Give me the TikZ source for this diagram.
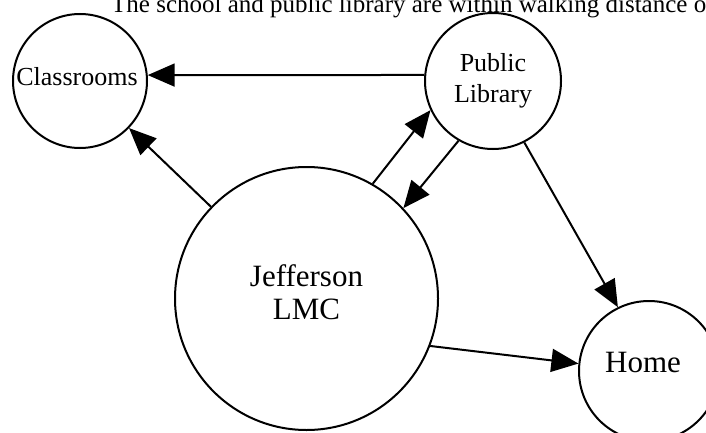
\documentclass[tikz,border=0pt]{standalone}
\usepackage{fontspec}
\setmainfont{Liberation Serif}
\usetikzlibrary{arrows.meta}
\begin{document}
\begin{tikzpicture}[x=1pt,y=-1pt,
  circ/.style={circle,draw,line width=2pt,inner sep=0pt,align=center},
  smallfont/.style={font=\fontsize{26}{31}\selectfont},
  bigfont/.style={font=\fontsize{31}{33}\selectfont},
  conn/.style={line width=2pt,-{Triangle[length=27pt,width=23pt]}}]
\useasboundingbox (0,0) rectangle (706,433);
\clip (0,0) rectangle (706,433);
\node[anchor=base west,font=\fontsize{25}{30}\selectfont,inner sep=0pt] (title) at (111,13) {The school and public library are within walking distance of};
\node[circ,smallfont,minimum size=134pt,text depth=10pt] (cls) at (80,81) {Classrooms\hspace*{6pt}};
\node[circ,smallfont,minimum size=136pt] (pub) at (493,81) {Public\\Library};
\node[circ,bigfont,minimum size=263pt,text depth=12pt] (lmc) at (306.5,298.5) {Jefferson\\LMC};
\node[circ,bigfont,minimum size=140pt,text depth=17pt] (home) at (649,371) {Home\hspace*{12pt}};
\draw[conn] (pub.175) -- (cls.5);
\draw[conn] (lmc) -- (cls);
\draw[conn] (lmc.60) -- (pub.205);
\draw[conn] (pub.240) -- (lmc.43);
\draw[conn] (pub.-63) -- (home.116);
\draw[conn] (lmc.-21.5) -- (home.174);
\end{tikzpicture}
\end{document}
